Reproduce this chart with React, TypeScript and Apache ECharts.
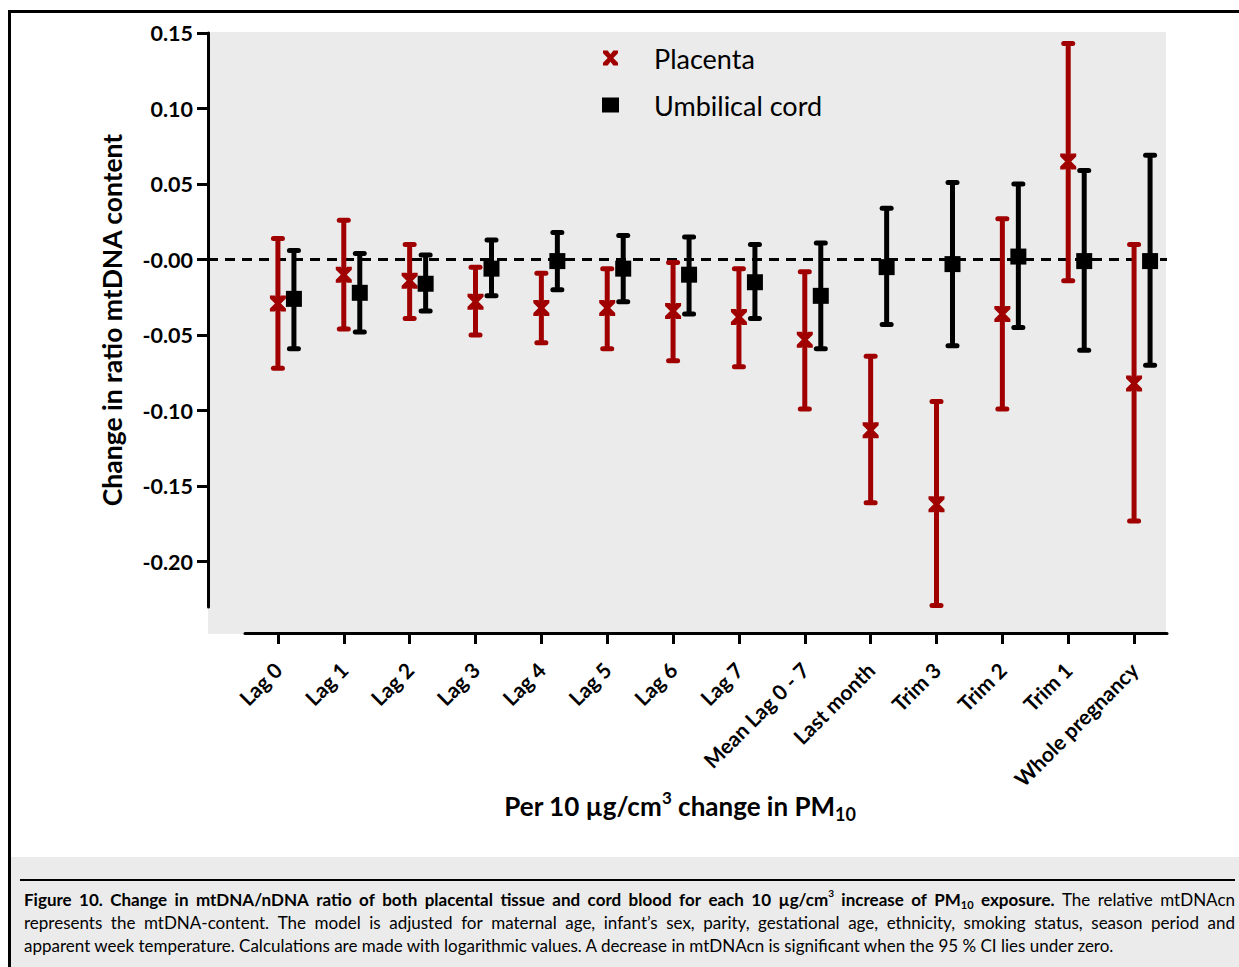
import React, { useEffect, useRef } from "react";
import * as echarts from "echarts";

const categories = [
  "Lag 0", "Lag 1", "Lag 2", "Lag 3", "Lag 4", "Lag 5", "Lag 6", "Lag 7",
  "Mean Lag 0 - 7", "Last month", "Trim 3", "Trim 2", "Trim 1", "Whole pregnancy",
];

// Placenta: estimate, lower CI, upper CI
const placentaEst = [-0.029, -0.010, -0.014, -0.028, -0.032, -0.032, -0.034, -0.038, -0.053, -0.113, -0.162, -0.036, 0.065, -0.082];
const placentaLow = [-0.072, -0.046, -0.039, -0.050, -0.055, -0.059, -0.067, -0.071, -0.099, -0.161, -0.229, -0.099, -0.014, -0.173];
const placentaHigh = [0.014, 0.026, 0.010, -0.005, -0.009, -0.006, -0.002, -0.006, -0.008, -0.064, -0.094, 0.027, 0.143, 0.010];

// Umbilical cord: estimate, lower CI, upper CI
const cordEst = [-0.026, -0.022, -0.016, -0.006, -0.001, -0.006, -0.010, -0.015, -0.024, -0.005, -0.003, 0.002, -0.001, -0.001];
const cordLow = [-0.059, -0.048, -0.034, -0.024, -0.020, -0.028, -0.036, -0.039, -0.059, -0.043, -0.057, -0.045, -0.060, -0.070];
const cordHigh = [0.006, 0.004, 0.003, 0.013, 0.018, 0.016, 0.015, 0.010, 0.011, 0.034, 0.051, 0.050, 0.059, 0.069];

const yTickValues = [0.15, 0.1, 0.05, 0, -0.05, -0.1, -0.15, -0.2];
const yTickLabels = ["0.15", "0.10", "0.05", "-0.00", "-0.05", "-0.10", "-0.15", "-0.20"];
const yMin = -0.23;
const yMax = 0.15;
const zeroLine = 0;

type Seg = { t: string; s: "b" | "r" | "bsup" | "bsub" };
const captionLine1: Seg[] = [
  { t: "Figure 10. Change in mtDNA/nDNA ratio of both placental tissue and cord blood for each 10 µg/cm", s: "b" },
  { t: "3", s: "bsup" },
  { t: " increase of PM", s: "b" },
  { t: "10", s: "bsub" },
  { t: " exposure.", s: "b" },
  { t: " The relative mtDNAcn", s: "r" },
];
const captionLine2: Seg[] = [
  { t: "represents the mtDNA-content. The model is adjusted for maternal age, infant’s sex, parity, gestational age, ethnicity, smoking status, season period and", s: "r" },
];
const captionLine3 =
  "apparent week temperature. Calculations are made with logarithmic values. A decrease in mtDNAcn is significant when the 95 % CI lies under zero.";

const RED = "#a00000";
const BLACK = "#000000";
const FONT = "Lato";
const CAP_SIZE = 17;
const X_PATH = "path://M0,0 L5,0 L8,4 L11,0 L16,0 L16,3 L11,8 L16,13 L16,16 L11,16 L8,12 L5,16 L0,16 L0,13 L5,8 L0,3 Z";

const capRich: any = {
  b: { fontFamily: FONT, fontWeight: "bold", fontSize: CAP_SIZE, lineHeight: 22, fill: "#000" },
  bsup: { fontFamily: FONT, fontWeight: "bold", fontSize: 10, lineHeight: 10, verticalAlign: "top", fill: "#000" },
  bsub: { fontFamily: FONT, fontWeight: "bold", fontSize: 11, lineHeight: 11, verticalAlign: "bottom", fill: "#000" },
  r: { fontFamily: FONT, fontSize: CAP_SIZE, lineHeight: 22, fill: "#000" },
};

function measureSeg(ctx: CanvasRenderingContext2D | null, seg: Seg) {
  const st = capRich[seg.s];
  const bold = st.fontWeight === "bold" ? "bold " : "";
  if (!ctx) return seg.t.length * st.fontSize * 0.5;
  ctx.font = `${bold}${st.fontSize}px ${FONT}`;
  return ctx.measureText(seg.t).width;
}

function justifiedLine(segs: Seg[], x0: number, x1: number, y: number) {
  const words: Seg[][] = [];
  let cur: Seg[] = [];
  segs.forEach((seg) => {
    const parts = seg.t.split(" ");
    parts.forEach((p, i) => {
      if (i > 0) {
        if (cur.length) words.push(cur);
        cur = [];
      }
      if (p.length) cur.push({ t: p, s: seg.s });
    });
  });
  if (cur.length) words.push(cur);
  const canvas = document.createElement("canvas");
  const ctx = canvas.getContext("2d");
  const widths = words.map((w) => w.reduce((a, seg) => a + measureSeg(ctx, seg), 0));
  const total = widths.reduce((a, b) => a + b, 0);
  const gap = (x1 - x0 - total) / (words.length - 1);
  let x = x0;
  return words.map((w, i) => {
    const el = {
      type: "text",
      x,
      y,
      style: {
        text: w.map((seg) => `{${seg.s}|${seg.t}}`).join(""),
        verticalAlign: "middle",
        rich: capRich,
      },
    };
    x += widths[i] + gap;
    return el;
  });
}

function errorBarSeries(name: string, low: number[], high: number[], color: string, offset: number) {
  return {
    type: "custom",
    name,
    xAxisIndex: 0,
    yAxisIndex: 0,
    z: 3,
    silent: true,
    data: low.map((l, i) => [i, l, high[i]]),
    encode: { x: 0, y: [1, 2] },
    renderItem: (params: any, api: any) => {
      const x = api.value(0);
      const pLo = api.coord([x, api.value(1)]);
      const pHi = api.coord([x, api.value(2)]);
      const cx = pLo[0] + offset;
      const st = { stroke: color, lineWidth: 5, lineCap: "round" };
      return {
        type: "group",
        children: [
          { type: "line", shape: { x1: cx, y1: pHi[1], x2: cx, y2: pLo[1] }, style: { stroke: color, lineWidth: 5 } },
          { type: "line", shape: { x1: cx - 4.5, y1: pHi[1], x2: cx + 4.5, y2: pHi[1] }, style: st },
          { type: "line", shape: { x1: cx - 4.5, y1: pLo[1], x2: cx + 4.5, y2: pLo[1] }, style: st },
        ],
      };
    },
  };
}

export default function App() {
  const ref = useRef<HTMLDivElement>(null);
  useEffect(() => {
    if (!ref.current) return;
    const chart = echarts.init(ref.current, undefined, { renderer: "svg" });
    const option: any = {
      animation: false,
      backgroundColor: "#ffffff",
      textStyle: { fontFamily: FONT },
      legend: {
        orient: "vertical",
        left: 597,
        top: 39,
        itemWidth: 17,
        itemHeight: 15,
        itemGap: 19,
        selectedMode: false,
        textStyle: { fontFamily: FONT, fontSize: 27, color: "#000", lineHeight: 28, padding: [0, 0, 0, 30] },
        data: [
          { name: "Placenta", icon: X_PATH, itemStyle: { color: RED } },
          { name: "Umbilical cord", icon: "rect", itemStyle: { color: BLACK } },
        ],
      },
      grid: [
        { left: 245, top: 33, width: 922, height: 574, containLabel: false },
        { left: 208, top: 33, width: 959, height: 574, containLabel: false },
      ],
      xAxis: [
        {
          type: "category",
          gridIndex: 0,
          data: categories,
          offset: 26,
          axisLine: { show: true, onZero: false, lineStyle: { color: "#000", width: 3 } },
          axisTick: { show: true, inside: false, interval: 0, alignWithLabel: true, length: 11, lineStyle: { color: "#000", width: 3 } },
          axisLabel: { interval: 0, rotate: 45, margin: 33, fontWeight: "bold", fontSize: 21, fontFamily: FONT, color: "#000" },
          splitLine: { show: false },
        },
        { type: "value", gridIndex: 1, min: 0, max: 1, show: false },
      ],
      yAxis: [
        { type: "value", gridIndex: 0, min: yMin, max: yMax, show: false },
        {
          type: "value",
          gridIndex: 1,
          min: yMin,
          max: yMax,
          position: "left",
          axisLine: { show: true, onZero: false, lineStyle: { color: "#000", width: 3 } },
          axisTick: { show: true, customValues: yTickValues, length: 11, lineStyle: { color: "#000", width: 3 } },
          axisLabel: {
            customValues: yTickValues,
            margin: 15,
            fontWeight: "bold",
            fontSize: 21.5,
            fontFamily: FONT,
            color: "#000",
            formatter: (v: number) => {
              let best = 0;
              yTickValues.forEach((t, i) => {
                if (Math.abs(t - v) < Math.abs(yTickValues[best] - v)) best = i;
              });
              return yTickLabels[best];
            },
          },
          splitLine: { show: false },
          name: "Change in ratio mtDNA content",
          nameLocation: "middle",
          nameGap: 83,
          nameTextStyle: { fontWeight: "bold", fontSize: 26.5, fontFamily: FONT, color: "#000" },
        },
      ],
      graphic: [
        { type: "rect", z: -10, shape: { x: 208, y: 32, width: 958, height: 602 }, style: { fill: "#ebebeb" } },
        { type: "rect", z: -10, shape: { x: 11, y: 857, width: 1228, height: 110 }, style: { fill: "#ebebeb" } },
        { type: "line", shape: { x1: 8, y1: 11.5, x2: 1239, y2: 11.5 }, style: { stroke: "#000", lineWidth: 3 } },
        { type: "line", shape: { x1: 9.5, y1: 10, x2: 9.5, y2: 967 }, style: { stroke: "#000", lineWidth: 3 } },
        { type: "line", shape: { x1: 20, y1: 880, x2: 1235, y2: 880 }, style: { stroke: "#000", lineWidth: 2 } },
        {
          type: "text",
          x: 680,
          y: 806,
          style: {
            text: "{b|Per 10 µg/cm}{sup|3}{b| change in PM}{sub|10}",
            align: "center",
            verticalAlign: "middle",
            rich: {
              b: { fontFamily: FONT, fontWeight: "bold", fontSize: 26, lineHeight: 34, fill: "#000" },
              sup: { fontFamily: FONT, fontWeight: "bold", fontSize: 17, lineHeight: 17, verticalAlign: "top", fill: "#000" },
              sub: { fontFamily: FONT, fontWeight: "bold", fontSize: 18, lineHeight: 18, verticalAlign: "bottom", fill: "#000" },
            },
          },
        },
        ...justifiedLine(captionLine1, 24, 1235, 899),
        ...justifiedLine(captionLine2, 24, 1235, 922),
        {
          type: "text",
          x: 24,
          y: 945,
          style: { text: captionLine3, fontFamily: FONT, fontSize: CAP_SIZE, verticalAlign: "middle", fill: "#000" },
        },
      ],
      series: [
        {
          type: "line",
          name: "zero",
          xAxisIndex: 1,
          yAxisIndex: 1,
          z: 1,
          silent: true,
          symbol: "none",
          data: [[0, zeroLine], [1, zeroLine]],
          lineStyle: { color: "#000", width: 3, type: [10, 7] },
        },
        errorBarSeries("Placenta CI", placentaLow, placentaHigh, RED, 0),
        errorBarSeries("Umbilical cord CI", cordLow, cordHigh, BLACK, 16),
        {
          type: "scatter",
          name: "Placenta",
          xAxisIndex: 0,
          yAxisIndex: 0,
          z: 4,
          symbol: X_PATH,
          symbolSize: [16, 16],
          itemStyle: { color: RED, opacity: 1 },
          data: placentaEst.map((v, i) => [i, v]),
        },
        {
          type: "scatter",
          name: "Umbilical cord",
          xAxisIndex: 0,
          yAxisIndex: 0,
          z: 4,
          symbol: "rect",
          symbolSize: 16,
          symbolOffset: [16, 0],
          itemStyle: { color: BLACK, opacity: 1 },
          data: cordEst.map((v, i) => [i, v]),
        },
      ],
    };
    chart.setOption(option);
    return () => chart.dispose();
  }, []);
  return <div ref={ref} style={{ position: "absolute", left: 0, top: 0, width: 1239, height: 967 }} />;
}
